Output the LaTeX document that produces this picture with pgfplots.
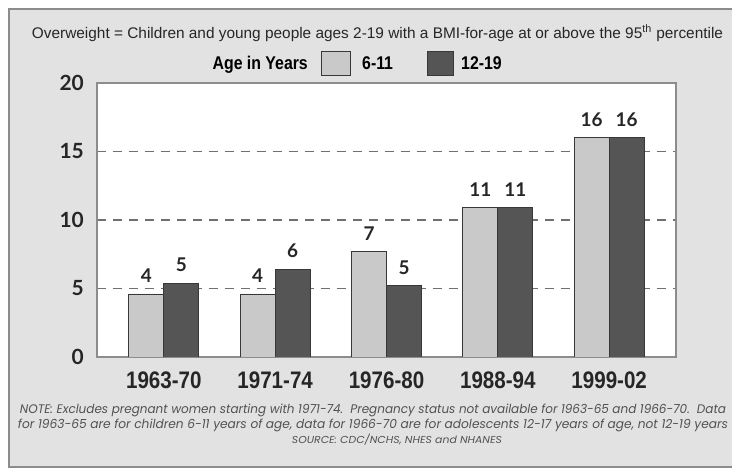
\documentclass[border=0pt]{standalone}
\usepackage{fontspec}
\usepackage{pgfplots}
\usepackage{pgfplotstable}
\usepackage{graphicx}
\pgfplotsset{compat=1.18}
\setmainfont{Liberation Sans}
\newfontfamily\latofont{Lato}
\newfontfamily\condfont[FakeStretch=0.86]{Liberation Sans}
\newfontfamily\notefont{Poppins}
\definecolor{bg}{HTML}{E2E2E2}
\definecolor{lightbar}{HTML}{C9C9C9}
\definecolor{darkbar}{HTML}{555555}
\definecolor{edge}{HTML}{383838}
\definecolor{gridc}{HTML}{707070}
\definecolor{framec}{HTML}{8C8C8C}

\pgfplotstableread{
x y lab
0 4.6 4
1 4.6 4
2 7.7 7
3 10.9 11
4 16.0 16
}\younger
\pgfplotstableread{
x y lab
0 5.4 5
1 6.4 6
2 5.2 5
3 10.9 11
4 16.0 16
}\older

\begin{document}
\begin{tikzpicture}
\path[use as bounding box] (0bp,0bp) rectangle (732bp,473bp);
\begin{scope}[x=1bp,y=1bp]
\clip (0,0) rectangle (732,473);
\fill[white] (0,0) rectangle (732,473);
\draw[framec, line width=2bp, fill=bg] (9,6) rectangle (760,464);
% subtitle
\node[inner sep=0pt, text=black!85] at (377.5,440)
  {\resizebox{691bp}{!}{\fontsize{14}{16}\selectfont Overweight = Children and young people ages 2-19 with a BMI-for-age at or above the 95\textsuperscript{th} percentile}};
% legend
\node[inner sep=0pt, anchor=base east, font=\condfont\bfseries\fontsize{18.5}{18}\selectfont] at (308,403) {Age in Years};
\draw[edge, line width=0.8bp, fill=lightbar] (321,398) rectangle (350,422);
\node[inner sep=0pt, anchor=base west, font=\condfont\bfseries\fontsize{18.5}{18}\selectfont] at (362,403) {6-11};
\draw[edge, line width=0.8bp, fill=darkbar] (427,398) rectangle (453,422);
\node[inner sep=0pt, anchor=base west, font=\condfont\bfseries\fontsize{18.5}{18}\selectfont] at (461,403) {12-19};
% notes
\node[inner sep=0pt, anchor=base, text=black!68] at (373,59)
  {\resizebox{706bp}{9.5bp}{\notefont\itshape\fontsize{11}{13}\selectfont NOTE: Excludes pregnant women starting with 1971-74.\ \ Pregnancy status not available for 1963-65 and 1966-70.\ \ Data}};
\node[inner sep=0pt, anchor=base, text=black!68] at (373,44)
  {\resizebox{710bp}{9.5bp}{\notefont\itshape\fontsize{11}{13}\selectfont for 1963-65 are for children 6-11 years of age, data for 1966-70 are for adolescents 12-17 years of age, not 12-19 years}};
\node[inner sep=0pt, anchor=base, text=black!68] at (397,30)
  {\resizebox{210bp}{9.5bp}{\notefont\itshape\fontsize{11}{13}\selectfont SOURCE: CDC/NCHS, NHES and NHANES}};
\end{scope}
\begin{axis}[
  at={(97bp,116bp)}, anchor=south west,
  scale only axis, width=579bp, height=274bp,
  xmin=-0.6, xmax=4.6, ymin=0, ymax=20,
  ybar=0pt, bar width=35bp,
  xtick={0,1,2,3,4},
  xticklabels={1963-70,1971-74,1976-80,1988-94,1999-02},
  ytick={0,5,10,15,20},
  major tick length=0pt,
  /pgf/number format/assume math mode=true,
  axis background/.style={fill=white},
  axis line style={framec, line width=1.5bp},
  ymajorgrids,
  grid style={gridc, line width=1.3bp, dash pattern=on 9bp off 7bp},
  xticklabel style={font=\condfont\bfseries\fontsize{24}{24}\selectfont, inner sep=0pt, anchor=north, yshift=-15bp, text=black!85},
  yticklabel style={font=\latofont\bfseries\fontsize{21}{21}\selectfont, inner sep=0pt, anchor=east, xshift=-13bp, text=black!85},
  nodes near coords,
  point meta=explicit symbolic,
  every node near coord/.append style={font=\latofont\bfseries\fontsize{19}{19}\selectfont, inner sep=0pt, anchor=south, yshift=11bp, text=black!85},
]
\addplot[fill=lightbar, draw=edge, line width=0.8bp] table[x=x, y=y, meta=lab] {\younger};
\addplot[fill=darkbar, draw=edge, line width=0.8bp] table[x=x, y=y, meta=lab] {\older};
\end{axis}
\end{tikzpicture}
\end{document}
